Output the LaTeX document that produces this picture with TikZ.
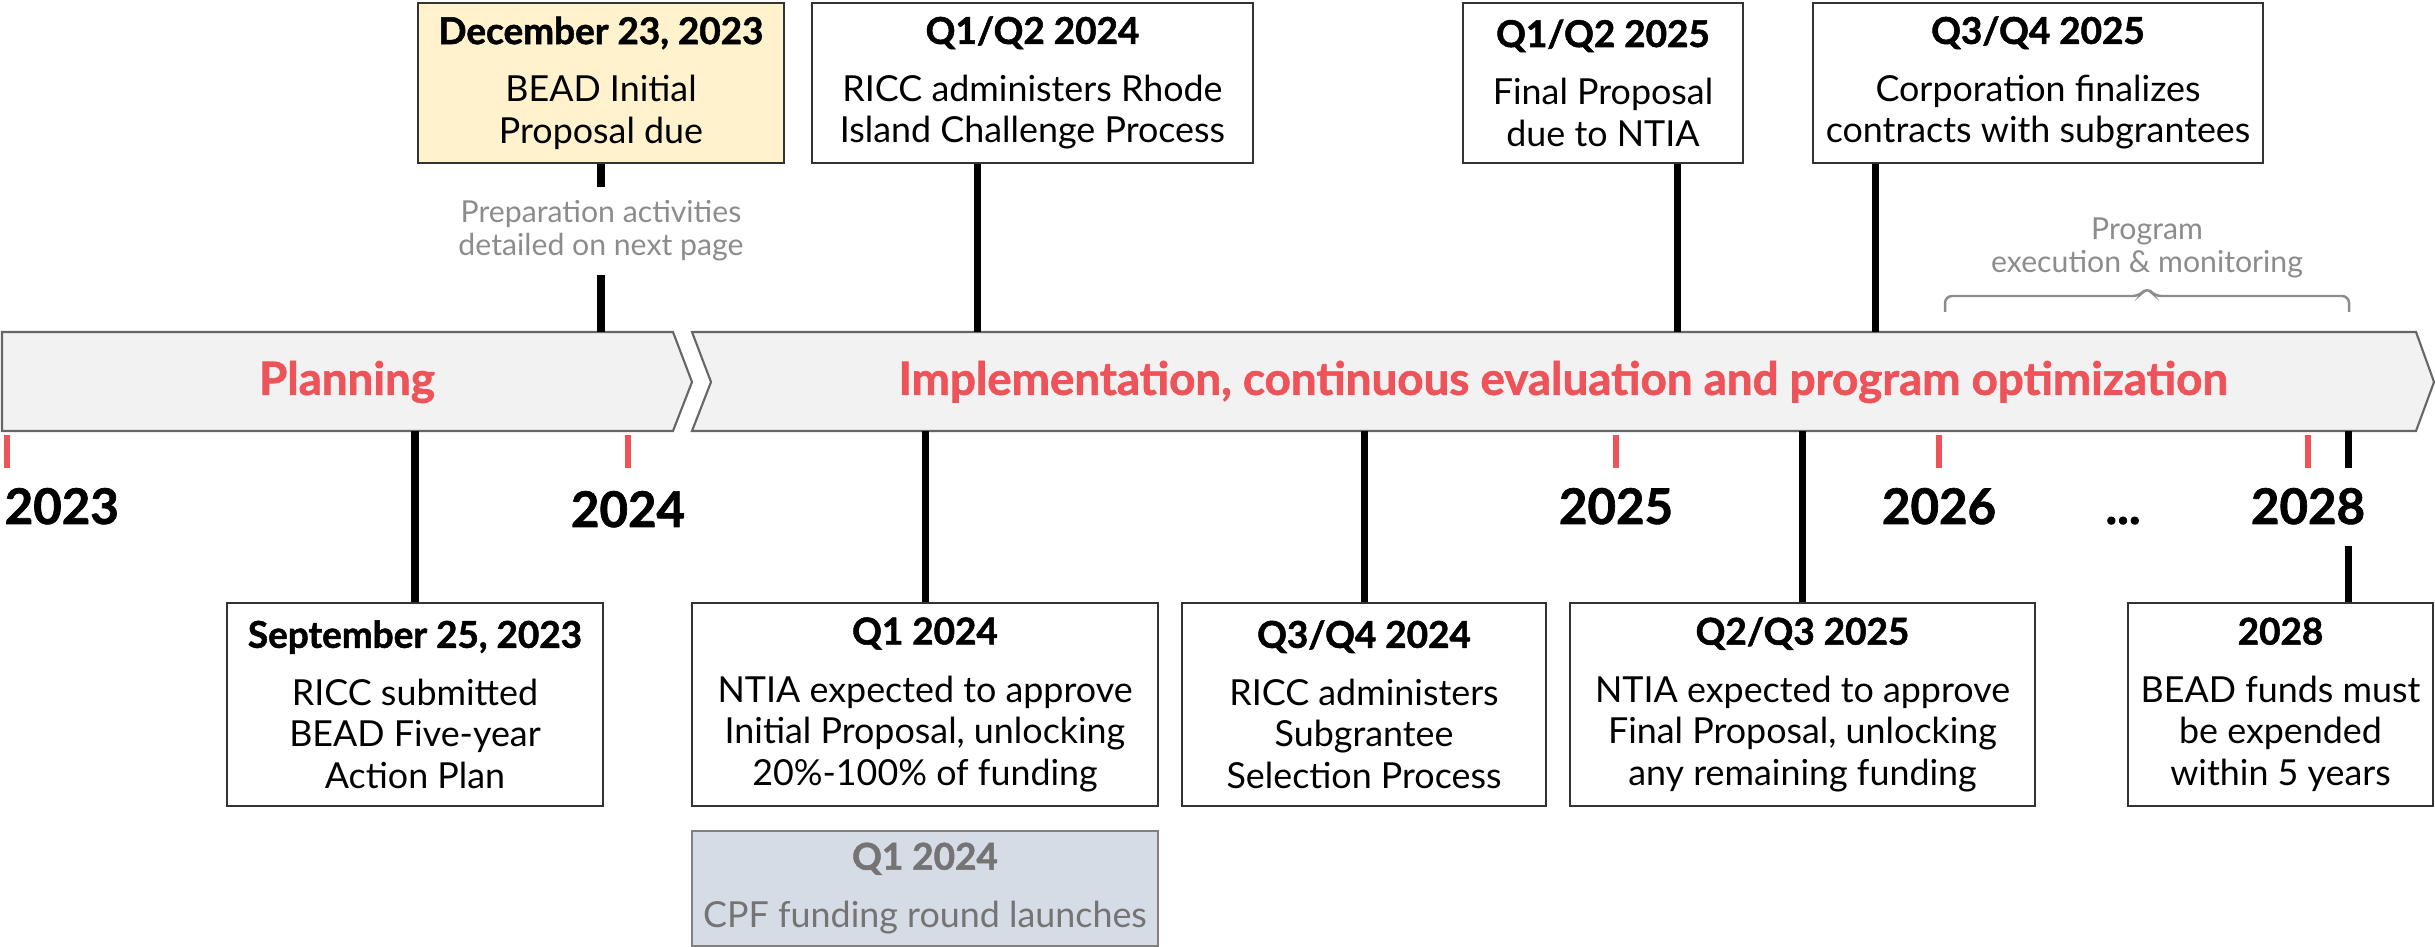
\documentclass[tikz,border=0pt]{standalone}
\usepackage{fontspec}
\setmainfont{Lato}
\newfontfamily\heavyfont{Lato}[BoldFeatures={FakeBold=1.4}]
\usetikzlibrary{positioning,decorations.pathreplacing}

\definecolor{accent}{HTML}{EE5359}
\definecolor{bandgray}{HTML}{F2F2F2}
\definecolor{duefill}{HTML}{FFF2CC}
\definecolor{cpffill}{HTML}{D6DCE5}
\definecolor{cpftext}{HTML}{747474}
\definecolor{notegray}{HTML}{8C8C8C}

\newcommand{\evtfont}{\fontsize{10.2}{11.8}\selectfont}
\newcommand{\ttl}[1]{{\heavyfont\bfseries\fontsize{10.5}{11.8}\selectfont #1}\\[4.6pt]}

\begin{document}
\begin{tikzpicture}[x=0.1mm, y=-0.1mm, every node/.style={align=center}]
    \tikzstyle{evt}=[draw=black!80, line width=0.5pt, fill=white, inner sep=0pt, minimum height=16mm, font=\evtfont]
    \tikzstyle{low}=[evt, minimum height=20.3mm]
    \tikzstyle{stem}=[line width=2pt]
    \tikzstyle{tick}=[accent, line width=1.7pt]
    \tikzstyle{band}=[draw=black!60, fill=bandgray, line width=0.6pt]
    \tikzstyle{phase}=[text=accent, font=\heavyfont\bfseries\fontsize{13}{15}\selectfont]
    \tikzstyle{year}=[font=\heavyfont\bfseries\fontsize{14}{16}\selectfont, inner sep=0pt]
    \tikzstyle{note}=[text=notegray, font=\fontsize{8.6}{9.4}\selectfont]

    \useasboundingbox (0,0) rectangle (2435,947);

    % phase bands
    \draw[band] (2,332) -- (673,332) -- (692,382) -- (673,431) -- (2,431) -- cycle;
    \draw[band] (692,332) -- (2416,332) -- (2434,382) -- (2416,431) -- (692,431) -- (711,382) -- cycle;
    \node[phase] (plan) at (347,382) {Planning};
    \node[phase] (impl) at (1563,382) {Implementation, continuous evaluation and program optimization};
    \coordinate (bandtop) at (0,332);
    \coordinate (bandbot) at (0,431);

    % milestones above the band
    \node[evt, fill=duefill, minimum width=36.6mm] (dec23) at (601,83) {\ttl{December 23, 2023}BEAD Initial\\Proposal due};
    \node[evt, minimum width=44.1mm] (q1q2y24) at (1032.5,83) {\ttl{Q1/Q2 2024}RICC administers Rhode\\Island Challenge Process};
    \node[evt, minimum width=28mm] (q1q2y25) at (1603,83) {\ttl{Q1/Q2 2025}Final Proposal\\due to NTIA};
    \node[evt, minimum width=45mm] (q3q4y25) at (2038,83) {\ttl{Q3/Q4 2025}Corporation finalizes\\contracts with subgrantees};

    \node[note, inner ysep=1.3mm] (prep) at (601,231) {Preparation activities\\detailed on next page};
    \draw[stem] (dec23.south) -- (prep.north);
    \draw[stem] (prep.south) -- (prep.south |- bandtop);

    \coordinate (c24) at (977,0);
    \coordinate (c25a) at (1677,0);
    \coordinate (c25b) at (1875,0);
    \draw[stem] (q1q2y24.south -| c24) -- (c24 |- bandtop);
    \draw[stem] (q1q2y25.south -| c25a) -- (c25a |- bandtop);
    \draw[stem] (q3q4y25.south -| c25b) -- (c25b |- bandtop);

    % bracket over the execution years
    \draw[notegray, line width=0.7pt, rounded corners=2pt] (1945,312) -- (1945,296) -- (2140,296) -- (2147,287) -- (2154,296) -- (2349,296) -- (2349,312);
    \node[note] (prog) at (2147,248) {Program\\execution \& monitoring};

    % year ticks
    \foreach \tx in {7,628,1616,1939,2308}
        \draw[tick] (\tx,435) -- (\tx,468);
    \node[year, anchor=base west] (y2023) at (4,524) {2023};
    \node[year, anchor=base] (y2024) at (628,527) {2024};
    \node[year, anchor=base] (y2025) at (1616,524) {2025};
    \node[year, anchor=base] (y2026) at (1939,524) {2026};
    \node[year, anchor=base] (ydots) at (2123,524) {...};
    \node[year, anchor=base] (y2028) at (2308,524) {2028};

    % milestones below the band
    \node[low, minimum width=37.6mm] (sep25) at (415,704.5) {\ttl{September 25, 2023}RICC submitted\\BEAD Five-year\\Action Plan};
    \node[low, minimum width=46.6mm] (q1y24) at (925,704.5) {\ttl{Q1 2024}NTIA expected to approve\\Initial Proposal, unlocking\\20\%-100\% of funding};
    \node[low, minimum width=36.4mm] (q3q4y24) at (1364,704.5) {\ttl{Q3/Q4 2024}RICC administers\\Subgrantee\\Selection Process};
    \node[low, minimum width=46.5mm] (q2q3y25) at (1802.5,704.5) {\ttl{Q2/Q3 2025}NTIA expected to approve\\Final Proposal, unlocking\\any remaining funding};
    \node[low, minimum width=30.5mm] (y28) at (2280.5,704.5) {\ttl{2028}BEAD funds must\\be expended\\within 5 years};
    \node[evt, draw=black!50, fill=cpffill, text=cpftext, minimum width=46.6mm, minimum height=11.5mm, below=2.3mm of q1y24] (cpf) {\ttl{Q1 2024}CPF funding round launches};

    \draw[stem] (sep25.north) -- (sep25.north |- bandbot);
    \draw[stem] (q1y24.north) -- (q1y24.north |- bandbot);
    \draw[stem] (q3q4y24.north) -- (q3q4y24.north |- bandbot);
    \draw[stem] (q2q3y25.north) -- (q2q3y25.north |- bandbot);
    \coordinate (c28) at (2348,0);
    \draw[stem] (y28.north -| c28) -- ++(0,-56);
    \draw[stem] (c28 |- bandbot) -- ++(0,37);
\end{tikzpicture}
\end{document}
